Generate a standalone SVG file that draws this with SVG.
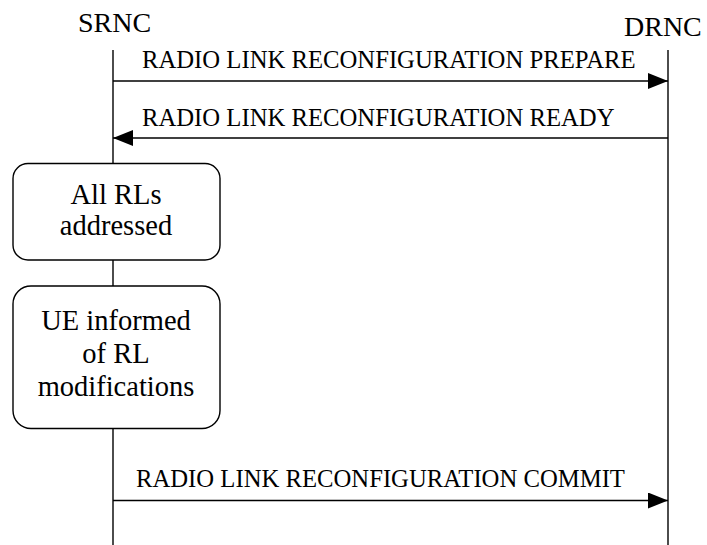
<svg xmlns="http://www.w3.org/2000/svg" width="707" height="545" viewBox="0 0 707 545">
<style>
text{font-family:"Liberation Serif","Times New Roman",serif;fill:#000}
.ent{font-size:28px}
.msg{font-size:24.7px}
.box{font-size:28.5px;text-anchor:middle}
.life{stroke:#000;stroke-width:1.4;fill:none}
.arr{stroke:#000;stroke-width:1.4;fill:none}
.proc{fill:#fff;stroke:#000;stroke-width:1.4}
</style>
<defs>
<marker id="ah" viewBox="0 0 20 16" refX="20" refY="8" markerWidth="20" markerHeight="16" markerUnits="userSpaceOnUse" orient="auto">
<path d="M0,0 L20,8 L0,16 Z" fill="#000"/>
</marker>
</defs>
<g id="SRNC">
<text class="ent" x="78" y="32">SRNC</text>
<line class="life" x1="113" y1="50" x2="113" y2="545"/>
</g>
<g id="DRNC">
<text class="ent" x="624" y="36">DRNC</text>
<line class="life" x1="668" y1="50" x2="668" y2="545"/>
</g>
<g id="connectors">
<line class="arr" x1="113" y1="81" x2="668" y2="81" marker-end="url(#ah)"/>
<text class="msg" x="142" y="68">RADIO LINK RECONFIGURATION PREPARE</text>
<line class="arr" x1="668" y1="138" x2="113" y2="138" marker-end="url(#ah)"/>
<text class="msg" x="142" y="126">RADIO LINK RECONFIGURATION READY</text>
<line class="arr" x1="113" y1="500.5" x2="668" y2="500.5" marker-end="url(#ah)"/>
<text class="msg" x="136" y="487">RADIO LINK RECONFIGURATION COMMIT</text>
</g>
<g id="box1">
<rect class="proc" x="13" y="163.5" width="207" height="96.5" rx="15" ry="15"/>
<text class="box" x="116" y="204">All RLs</text>
<text class="box" x="116" y="235">addressed</text>
</g>
<g id="box2">
<rect class="proc" x="13" y="286" width="207" height="142.5" rx="18" ry="18"/>
<text class="box" x="116" y="330">UE informed</text>
<text class="box" x="116" y="363">of RL</text>
<text class="box" x="116" y="396">modifications</text>
</g>
</svg>
